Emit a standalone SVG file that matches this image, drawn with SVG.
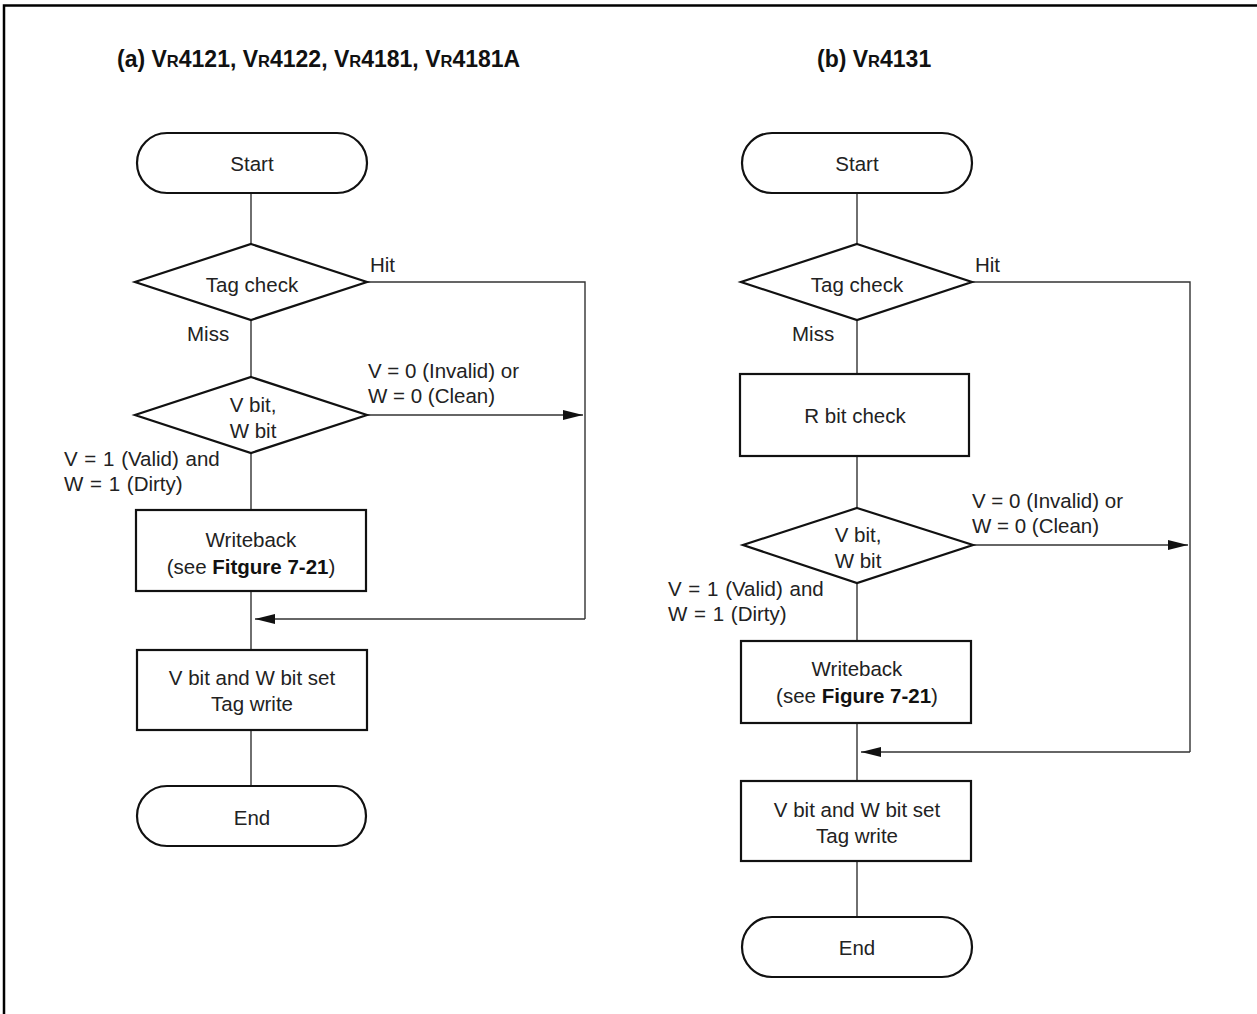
<svg xmlns="http://www.w3.org/2000/svg" width="1257" height="1014" viewBox="0 0 1257 1014">
<defs>
<style>
.shape{fill:#fff;stroke:#111;stroke-width:2.2}
.conn{fill:none;stroke:#333;stroke-width:1.4}
text{font-family:"Liberation Sans",Arial,sans-serif;font-size:20.5px;fill:#222}
.c{text-anchor:middle}
.t{font-weight:bold;font-size:23px;fill:#111}
.r{font-size:16.5px}
.b{font-weight:bold;fill:#111}
</style>
<marker id="ah" viewBox="0 0 20 10" refX="20" refY="5" markerWidth="20" markerHeight="10" markerUnits="userSpaceOnUse" orient="auto">
<path d="M0,0 L20,5 L0,10 Z" fill="#111"/>
</marker>
</defs>
<rect width="1257" height="1014" fill="#fff"/>
<path d="M4,1014 V5.5 H1257" fill="none" stroke="#000" stroke-width="2.5"/>
<g id="titles">
<text class="t" x="117" y="67">(a) V<tspan class="r">R</tspan>4121, V<tspan class="r">R</tspan>4122, V<tspan class="r">R</tspan>4181, V<tspan class="r">R</tspan>4181A</text>
<text class="t" x="817" y="67">(b) V<tspan class="r">R</tspan>4131</text>
</g>
<g id="connectors">
<path class="conn" d="M251,193 V244"/>
<path class="conn" d="M251,320 V377"/>
<path class="conn" d="M367,282 H585 V619"/>
<path class="conn" d="M367,415 H583" marker-end="url(#ah)"/>
<path class="conn" d="M251,453 V510"/>
<path class="conn" d="M251,591 V650"/>
<path class="conn" d="M585,619 H255" marker-end="url(#ah)"/>
<path class="conn" d="M251,730 V785"/>
<path class="conn" d="M857,193 V244"/>
<path class="conn" d="M857,320 V374"/>
<path class="conn" d="M857,456 V508"/>
<path class="conn" d="M972,282 H1190 V752"/>
<path class="conn" d="M973,545 H1188" marker-end="url(#ah)"/>
<path class="conn" d="M857,583 V641"/>
<path class="conn" d="M857,723 V781"/>
<path class="conn" d="M1190,752 H861" marker-end="url(#ah)"/>
<path class="conn" d="M857,861 V917"/>
</g>
<g id="labels">
<text x="370" y="272">Hit</text>
<text x="187" y="341">Miss</text>
<text x="368" y="378">V = 0 (Invalid) or</text>
<text x="368" y="403">W = 0 (Clean)</text>
<text x="64" y="466" word-spacing="1">V = 1 (Valid) and</text>
<text x="64" y="491" word-spacing="1">W = 1 (Dirty)</text>
<text x="975" y="272">Hit</text>
<text x="792" y="341">Miss</text>
<text x="972" y="508">V = 0 (Invalid) or</text>
<text x="972" y="533">W = 0 (Clean)</text>
<text x="668" y="596" word-spacing="1">V = 1 (Valid) and</text>
<text x="668" y="621" word-spacing="1">W = 1 (Dirty)</text>
</g>
<g id="a-start"><rect class="shape" x="137" y="133" width="230" height="60" rx="30"/><text class="c" x="252" y="171">Start</text></g>
<g id="a-tagcheck"><polygon class="shape" points="251,244 367,282 251,320 135,282"/><text class="c" x="252" y="292">Tag check</text></g>
<g id="a-vwbit"><polygon class="shape" points="251,377 367,415 251,453 135,415"/><text class="c" x="253" y="412">V bit,</text><text class="c" x="253" y="438">W bit</text></g>
<g id="a-writeback"><rect class="shape" x="136" y="510" width="230" height="81"/><text class="c" x="251" y="547">Writeback</text><text class="c" x="251" y="574">(see <tspan class="b">Fitgure 7-21</tspan>)</text></g>
<g id="a-set"><rect class="shape" x="137" y="650" width="230" height="80"/><text class="c" x="252" y="685">V bit and W bit set</text><text class="c" x="252" y="711">Tag write</text></g>
<g id="a-end"><rect class="shape" x="137" y="786" width="229" height="60" rx="30"/><text class="c" x="252" y="825">End</text></g>
<g id="b-start"><rect class="shape" x="742" y="133" width="230" height="60" rx="30"/><text class="c" x="857" y="171">Start</text></g>
<g id="b-tagcheck"><polygon class="shape" points="857,244 972,282 857,320 741,282"/><text class="c" x="857" y="292">Tag check</text></g>
<g id="b-rbit"><rect class="shape" x="740" y="374" width="229" height="82"/><text class="c" x="855" y="423">R bit check</text></g>
<g id="b-vwbit"><polygon class="shape" points="857,508 973,545 857,583 743,545"/><text class="c" x="858" y="542">V bit,</text><text class="c" x="858" y="568">W bit</text></g>
<g id="b-writeback"><rect class="shape" x="741" y="641" width="230" height="82"/><text class="c" x="857" y="676">Writeback</text><text class="c" x="857" y="703">(see <tspan class="b">Figure 7-21</tspan>)</text></g>
<g id="b-set"><rect class="shape" x="741" y="781" width="230" height="80"/><text class="c" x="857" y="817">V bit and W bit set</text><text class="c" x="857" y="843">Tag write</text></g>
<g id="b-end"><rect class="shape" x="742" y="917" width="230" height="60" rx="30"/><text class="c" x="857" y="955">End</text></g>
</svg>
